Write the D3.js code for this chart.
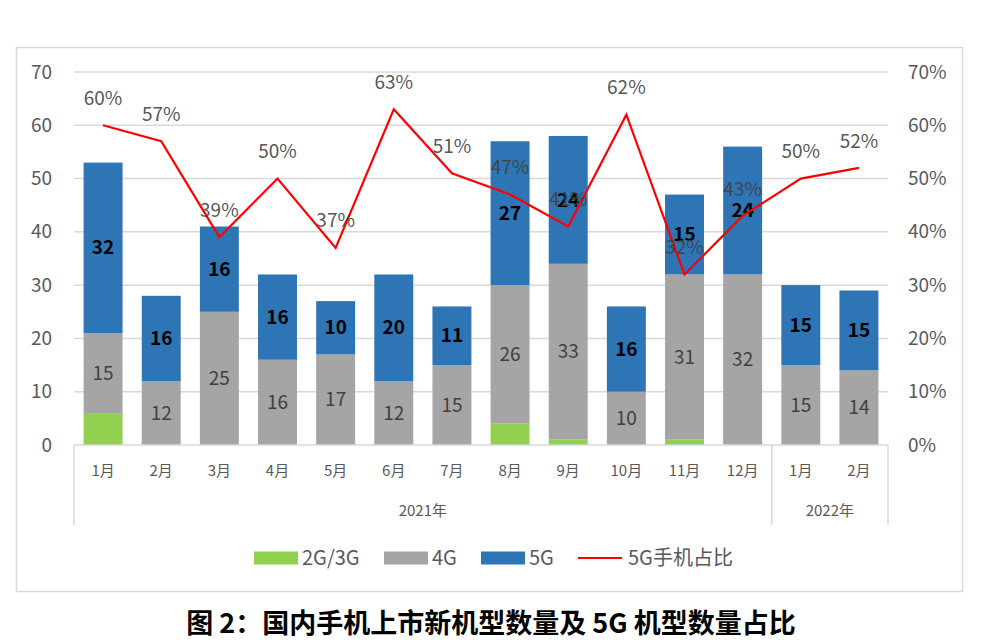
<!DOCTYPE html>
<html lang="zh">
<head>
<meta charset="UTF-8">
<script src="https://d3js.org/d3.v7.min.js"></script>
<title>国内手机上市新机型数量</title>
<style>
  body { margin: 0; background: #fff; }
  svg text { font-family: "Noto Sans CJK SC", "Noto Sans", sans-serif; }
</style>
</head>
<body>
<div id="chart"></div>
<script>
const months = ["1月", "2月", "3月", "4月", "5月", "6月", "7月", "8月", "9月", "10月", "11月", "12月", "1月", "2月"];
const years = [["2021年", 0, 11], ["2022年", 12, 13]];
const g23 = [6, 0, 0, 0, 0, 0, 0, 4, 1, 0, 1, 0, 0, 0];
const g4 = [15, 12, 25, 16, 17, 12, 15, 26, 33, 10, 31, 32, 15, 14];
const g5 = [32, 16, 16, 16, 10, 20, 11, 27, 24, 16, 15, 24, 15, 15];
const share = [60, 57, 39, 50, 37, 63, 51, 47, 41, 62, 32, 43, 50, 52];
const leftTicks = [0, 10, 20, 30, 40, 50, 60, 70];
const rightTicks = [0, 10, 20, 30, 40, 50, 60, 70];

const width = 983, height = 643;
const m = { left: 74, right: 888, top: 72, bottom: 445 };

const svg = d3.select("#chart").append("svg")
  .attr("width", width).attr("height", height);

// frame
svg.append("rect").attr("x", 16.5).attr("y", 47.5).attr("width", 946).attr("height", 544)
  .attr("fill", "none").attr("stroke", "#d9d9d9").attr("stroke-width", 1.5);

const x = d3.scaleBand().domain(d3.range(months.length)).range([m.left, m.right]).paddingInner(0.33).paddingOuter(0.165);
const y = d3.scaleLinear().domain([0, 70]).range([m.bottom, m.top]);
const yR = d3.scaleLinear().domain([0, 70]).range([m.bottom, m.top]);

// gridlines
svg.append("g").selectAll("line").data(leftTicks.slice(1)).join("line")
  .attr("x1", m.left).attr("x2", m.right)
  .attr("y1", d => y(d)).attr("y2", d => y(d))
  .attr("stroke", "#d9d9d9").attr("stroke-width", 1.5);

// left axis
const yAxis = d3.axisLeft(y).tickValues(leftTicks).tickSize(0).tickPadding(22);
svg.append("g").attr("transform", `translate(${m.left},0)`).call(yAxis)
  .call(g => g.select(".domain").remove())
  .selectAll("text").attr("font-size", 19).attr("fill", "#595959")
  .attr("font-family", "'Noto Sans', sans-serif");

// right axis
const yAxisR = d3.axisRight(yR).tickValues(rightTicks).tickSize(0).tickPadding(20).tickFormat(d => d + "%");
svg.append("g").attr("transform", `translate(${m.right},0)`).call(yAxisR)
  .call(g => g.select(".domain").remove())
  .selectAll("text").attr("font-size", 19).attr("fill", "#595959")
  .attr("font-family", "'Noto Sans', sans-serif");

// stacked bars
const rows = months.map((mo, i) => ({ i, a: g23[i], b: g4[i], c: g5[i] }));
const stack = d3.stack().keys(["a", "b", "c"])(rows);
const colors = { a: "#92d050", b: "#a5a5a5", c: "#2e75b6" };
svg.append("g").selectAll("g").data(stack).join("g")
  .attr("fill", s => colors[s.key])
  .selectAll("rect").data(s => s).join("rect")
  .attr("x", d => x(d.data.i))
  .attr("width", x.bandwidth())
  .attr("y", d => y(d[1]))
  .attr("height", d => y(d[0]) - y(d[1]));

// 4G labels
svg.append("g").selectAll("text").data(stack[1]).join("text")
  .attr("x", d => x(d.data.i) + x.bandwidth() / 2)
  .attr("y", d => (y(d[0]) + y(d[1])) / 2)
  .attr("dy", "0.35em").attr("text-anchor", "middle")
  .attr("font-size", 19).attr("fill", "#404040")
  .attr("font-family", "'Noto Sans', sans-serif")
  .text(d => d.data.b);

// 5G labels
svg.append("g").selectAll("text").data(stack[2]).join("text")
  .attr("x", d => x(d.data.i) + x.bandwidth() / 2)
  .attr("y", d => (y(d[0]) + y(d[1])) / 2)
  .attr("dy", "0.35em").attr("text-anchor", "middle")
  .attr("font-size", 19).attr("font-weight", "bold").attr("fill", "#000")
  .attr("font-family", "'Noto Sans', sans-serif")
  .text(d => d.data.c);

// category axis
const cx = i => x(i) + x.bandwidth() / 2;
svg.append("line").attr("x1", m.left).attr("x2", m.right).attr("y1", m.bottom).attr("y2", m.bottom)
  .attr("stroke", "#d9d9d9").attr("stroke-width", 1.5);
const sepX = [m.left, (x(11) + x.bandwidth() + x(12)) / 2, m.right];
svg.append("g").selectAll("line").data(sepX).join("line")
  .attr("x1", d => d).attr("x2", d => d).attr("y1", m.bottom).attr("y2", 525)
  .attr("stroke", "#d9d9d9").attr("stroke-width", 1.5);
svg.append("g").selectAll("text").data(months).join("text")
  .attr("x", (d, i) => cx(i)).attr("y", 471).attr("dy", "0.35em")
  .attr("text-anchor", "middle").attr("font-size", 15).attr("fill", "#595959")
  .text(d => d);
svg.append("g").selectAll("text").data(years).join("text")
  .attr("x", d => {
    const a = d[1] === 0 ? m.left : sepX[1];
    const b = d[2] === months.length - 1 ? m.right : sepX[1];
    return (a + b) / 2;
  })
  .attr("y", 511).attr("dy", "0.35em")
  .attr("text-anchor", "middle").attr("font-size", 15).attr("fill", "#595959")
  .text(d => d[0]);

// share line
const line = d3.line().x((d, i) => cx(i)).y(d => yR(d));
svg.append("path").datum(share).attr("d", line)
  .attr("fill", "none").attr("stroke", "#ff0000").attr("stroke-width", 2.2)
  .attr("stroke-linejoin", "miter");
svg.append("g").selectAll("text").data(share).join("text")
  .attr("x", (d, i) => cx(i)).attr("y", d => yR(d) - 27)
  .attr("dy", "0.35em").attr("text-anchor", "middle")
  .attr("font-size", 19).attr("fill", "#404040").attr("fill-opacity", 0.9)
  .attr("font-family", "'Noto Sans', sans-serif")
  .text(d => d + "%");

// legend
const legend = [
  { name: "2G/3G", color: "#92d050", type: "rect", x: 254 },
  { name: "4G", color: "#a5a5a5", type: "rect", x: 384 },
  { name: "5G", color: "#2e75b6", type: "rect", x: 481 },
  { name: "5G手机占比", color: "#ff0000", type: "line", x: 578 }
];
const lg = svg.append("g").selectAll("g").data(legend).join("g")
  .attr("transform", d => `translate(${d.x},558)`);
lg.filter(d => d.type === "rect").append("rect")
  .attr("x", 0).attr("y", -6.5).attr("width", 44).attr("height", 13).attr("fill", d => d.color);
lg.filter(d => d.type === "line").append("line")
  .attr("x1", 0).attr("x2", 44).attr("y1", 0).attr("y2", 0)
  .attr("stroke", d => d.color).attr("stroke-width", 2.2);
lg.append("text").attr("x", d => d.type === "line" ? 50 : 48).attr("y", 0).attr("dy", "0.35em")
  .attr("font-size", 20).attr("fill", "#595959").text(d => d.name);

// caption
svg.append("text").attr("x", 491).attr("y", 624).attr("dy", "0.35em")
  .attr("text-anchor", "middle").attr("font-size", 27).attr("font-weight", "bold")
  .attr("fill", "#000").text("图 2：国内手机上市新机型数量及 5G 机型数量占比");
</script>
</body>
</html>
